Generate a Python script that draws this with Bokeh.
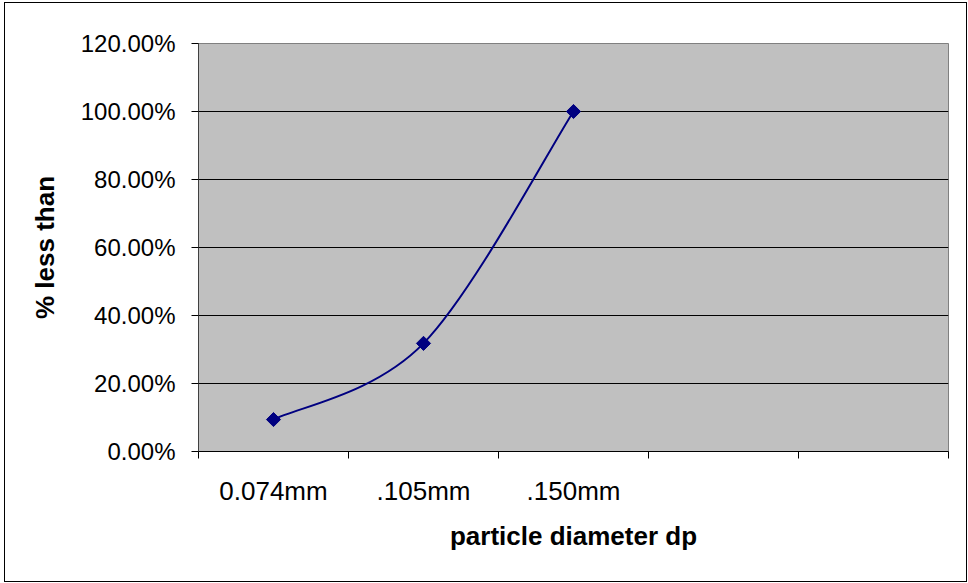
import math
from bokeh.plotting import figure
from bokeh.layouts import column
from bokeh.models import Range1d, FixedTicker, NumeralTickFormatter
from bokeh.embed import file_html
from bokeh.resources import INLINE

categories = ["0.074mm", ".105mm", ".150mm", "", ""]
percent_less = [0.094, 0.318, 1.0]
y_ticks = [0.0, 0.2, 0.4, 0.6, 0.8, 1.0, 1.2]

FONT = "Liberation Sans"
NAVY = "#000080"

# figure sits inside a 1px bordered box starting at (4, 2)
p = figure(width=961, height=578, output_backend="svg", toolbar_location=None,
           x_range=Range1d(0, len(categories)), y_range=Range1d(0, 1.2),
           min_border_left=193, min_border_right=18, min_border_top=40, min_border_bottom=130)

p.background_fill_color = "#C0C0C0"
p.border_fill_color = "white"
p.outline_line_color = "#808080"
p.outline_line_width = 1

# x axis: labels at category centres, ticks at boundaries
centers = [i + 0.5 for i in range(len(categories))]
bounds = [float(i) for i in range(len(categories) + 1)]
p.xaxis.ticker = FixedTicker(ticks=centers, minor_ticks=bounds)
p.xaxis.major_label_overrides = {c: lab for c, lab in zip(centers, categories)}
p.xaxis.major_tick_out = 0
p.xaxis.major_tick_in = 0
p.xaxis.minor_tick_out = 7
p.xaxis.minor_tick_in = 0
p.xaxis.minor_tick_line_color = "black"
p.xaxis.axis_line_color = "black"
p.xaxis.major_label_standoff = 17
p.xaxis.axis_label = "particle diameter dp"
p.xaxis.axis_label_standoff = 12
p.xgrid.visible = False

p.yaxis.ticker = FixedTicker(ticks=y_ticks, minor_ticks=[])
p.yaxis.formatter = NumeralTickFormatter(format="0.00%")
p.yaxis.major_tick_out = 7
p.yaxis.major_tick_in = 0
p.yaxis.major_tick_line_color = "black"
p.yaxis.axis_line_color = "#404040"
p.yaxis.major_label_standoff = 16
p.yaxis.axis_label = "% less than"
p.yaxis.axis_label_standoff = 18
p.ygrid.ticker = FixedTicker(ticks=y_ticks[1:-1])
p.ygrid.grid_line_color = "black"
p.ygrid.grid_line_width = 1

for ax in (p.xaxis, p.yaxis):
    ax.major_label_text_font = FONT
    ax.major_label_text_color = "black"
    ax.axis_label_text_font = FONT
    ax.axis_label_text_font_size = "26px"
    ax.axis_label_text_font_style = "bold"
    ax.axis_label_text_color = "black"
p.yaxis.major_label_text_font_size = "24px"
p.xaxis.major_label_text_font_size = "26px"

# smoothed line (Excel-style cubic Bezier through the points)
xs = centers[:len(percent_less)]
ys = percent_less
n = len(xs)
x0, y0, x1, y1, cx0, cy0, cx1, cy1 = [], [], [], [], [], [], [], []
for i in range(n - 1):
    pa = (xs[max(i - 1, 0)], ys[max(i - 1, 0)])
    pb = (xs[i], ys[i])
    pc = (xs[i + 1], ys[i + 1])
    pd = (xs[min(i + 2, n - 1)], ys[min(i + 2, n - 1)])
    x0.append(pb[0]); y0.append(pb[1]); x1.append(pc[0]); y1.append(pc[1])
    cx0.append(pb[0] + (pc[0] - pa[0]) / 6); cy0.append(pb[1] + (pc[1] - pa[1]) / 6)
    cx1.append(pc[0] - (pd[0] - pb[0]) / 6); cy1.append(pc[1] - (pd[1] - pb[1]) / 6)
p.bezier(x0=x0, y0=y0, x1=x1, y1=y1, cx0=cx0, cy0=cy0, cx1=cx1, cy1=cy1,
         line_color=NAVY, line_width=2)
p.scatter(xs, ys, marker="square", angle=math.pi / 4, size=10,
          fill_color=NAVY, line_color=NAVY)

layout = column(p, margin=(2, 0, 0, 4),
                styles={"border": "1px solid black", "box-sizing": "content-box"})

open("out.html", "w").write(file_html(layout, INLINE))
